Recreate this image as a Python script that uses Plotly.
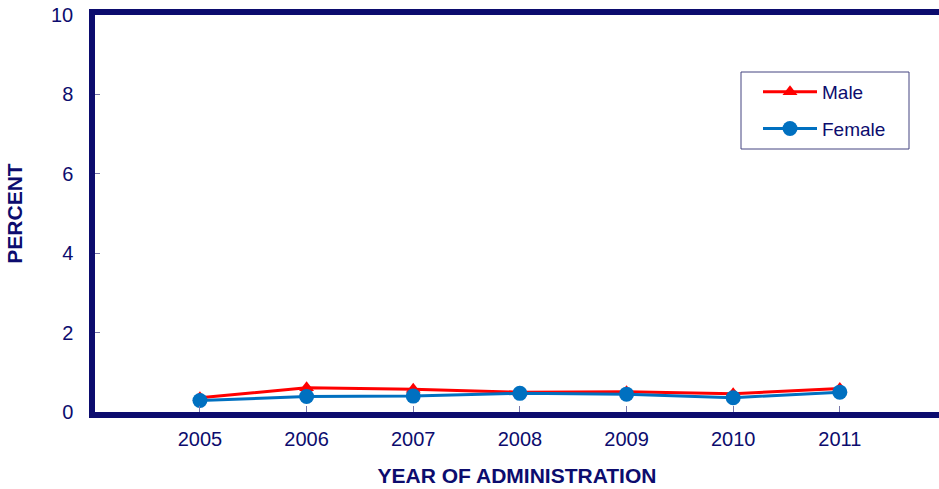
import plotly.graph_objects as go

# Survey years and percentage by sex
years = [2005, 2006, 2007, 2008, 2009, 2010, 2011]
male = [0.36, 0.61, 0.57, 0.50, 0.51, 0.46, 0.59]
female = [0.29, 0.39, 0.40, 0.47, 0.45, 0.36, 0.50]
y_ticks = [0, 2, 4, 6, 8, 10]

navy = "#0c0c6e"
font_family = "Liberation Sans, Arial, sans-serif"

W, H = 939, 489
ML, MR, MT, MB = 95, 0, 15, 77
PW, PH = W - ML - MR, H - MT - MB


def px_x(p):
    return (p - ML) / PW


def px_y(p):
    return 1 - (p - MT) / PH


fig = go.Figure()
fig.add_trace(go.Scatter(
    x=years, y=male, name="Male", mode="lines+markers",
    line=dict(color="#ff0000", width=3),
    marker=dict(symbol="triangle-up", size=13, color="#ff0000"),
    legendgroup="m",
))
fig.add_trace(go.Scatter(
    x=years, y=female, name="Female", mode="lines+markers",
    line=dict(color="#0070c0", width=3),
    marker=dict(symbol="circle", size=15, color="#0070c0"),
    legendgroup="f",
))

# legend frame
fig.add_shape(
    type="rect", xref="paper", yref="paper",
    x0=px_x(741), x1=px_x(909), y0=px_y(149), y1=px_y(72),
    line=dict(color="#444480", width=1), fillcolor="rgba(0,0,0,0)",
)

fig.update_layout(
    width=W, height=H,
    margin=dict(l=ML, r=MR, t=MT, b=MB),
    paper_bgcolor="white", plot_bgcolor="white",
    font=dict(family=font_family, size=20, color=navy),
    showlegend=True,
    legend=dict(
        x=px_x(758), y=px_y(73), xanchor="left", yanchor="top",
        bgcolor="rgba(0,0,0,0)", borderwidth=0,
        font=dict(size=19, color=navy),
        tracegroupgap=9,
        itemwidth=54,
    ),
    xaxis=dict(
        range=[2004.016, 2011.93],
        tickmode="array", tickvals=years, ticktext=[str(y) for y in years],
        showgrid=False, zeroline=False,
        showline=True, linewidth=5.5, linecolor=navy, mirror=True,
        ticks="inside", ticklen=6, tickcolor="#7777aa",
        tickfont=dict(size=20, color=navy),
        ticklabelstandoff=4,
        title=dict(text="<b>YEAR OF ADMINISTRATION</b>", font=dict(size=21, color=navy), standoff=22),
    ),
    yaxis=dict(
        range=[0, 10],
        tickmode="array", tickvals=y_ticks,
        showgrid=False, zeroline=False,
        showline=True, linewidth=5.5, linecolor=navy,
        ticks="inside", ticklen=5, tickcolor="#7777aa",
        tickfont=dict(size=20, color=navy),
        ticklabelstandoff=12,
        title=dict(text="<b>PERCENT</b>", font=dict(size=21, color=navy), standoff=25),
    ),
)

fig.write_html("out.html")
